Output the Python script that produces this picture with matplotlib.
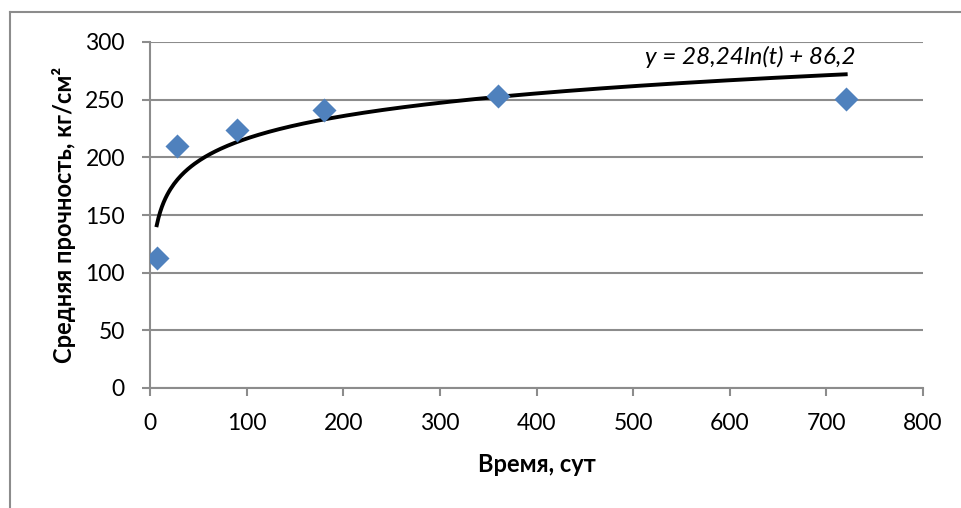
import numpy as np
import matplotlib
matplotlib.use("Agg")
import matplotlib.pyplot as plt
from matplotlib.lines import Line2D

plt.rcParams["font.family"] = ["Lato", "DejaVu Sans"]

# measured data: time (days) vs mean strength (kg/cm2)
days = [7, 28, 90, 180, 360, 720]
strength = [113, 210, 224, 241, 253, 251]

# logarithmic trendline shown on the chart
trend_a = 28.24
trend_b = 86.2
trend_label = "y = 28,24ln(t) + 86,2"

x_ticks = [0, 100, 200, 300, 400, 500, 600, 700, 800]
y_ticks = [0, 50, 100, 150, 200, 250, 300]

grid_color = "#8c8c8c"

fig = plt.figure(figsize=(9.61, 5.08), dpi=100)
ax = fig.add_axes([150 / 961, 1 - 388 / 508, 773 / 961, 346 / 508])

# outer chart frame (runs off the right and bottom edges)
fig.add_artist(Line2D([10 / 961, 10 / 961], [0, 1 - 12 / 508], color="#8c8c8c", lw=1.5))
fig.add_artist(Line2D([10 / 961, 1], [1 - 12 / 508, 1 - 12 / 508], color="#8c8c8c", lw=1.5))

t = np.linspace(min(days), max(days), 400)
ax.plot(t, trend_a * np.log(t) + trend_b, color="black", lw=2.8, zorder=3)
ax.scatter(days, strength, marker="D", s=150, color="#4f81bd", zorder=4, linewidths=0)

ax.set_xlim(0, 800)
ax.set_ylim(0, 300)
ax.set_xticks(x_ticks)
ax.set_yticks(y_ticks)
ax.yaxis.grid(True, color=grid_color, lw=1.5)
ax.set_axisbelow(True)

for side in ["top", "right"]:
    ax.spines[side].set_visible(False)
for side in ["left", "bottom"]:
    ax.spines[side].set_color(grid_color)
    ax.spines[side].set_linewidth(1.5)
ax.tick_params(axis="both", colors=grid_color, labelcolor="black", labelsize=16.5,
               length=6, width=1.5, direction="out")
ax.tick_params(axis="y", pad=12)
ax.tick_params(axis="x", pad=12)

ax.set_xlabel("Время, сут", fontsize=17, fontweight="bold", labelpad=14)
ax.set_ylabel("Средняя прочность, кг/см²", fontsize=17, fontweight="bold", labelpad=7)

ax.text(621, 287, trend_label, fontsize=17.5, style="italic", ha="center", va="center")

fig.savefig("out.png", dpi=100)
